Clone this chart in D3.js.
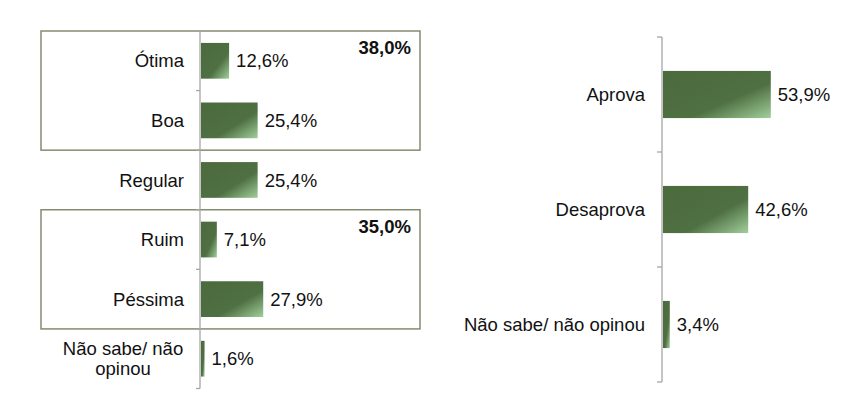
<!DOCTYPE html>
<html>
<head>
<meta charset="utf-8">
<script src="https://cdn.jsdelivr.net/npm/d3@7"></script>
<style>
  body { margin: 0; background: #fff; }
  text { font-family: "Liberation Sans", Arial, sans-serif; fill: #111; }
</style>
</head>
<body>
<svg id="chart" width="859" height="399"></svg>
<script>
// Avaliação (left) and aprovação (right)
const evalCategories = ["Ótima", "Boa", "Regular", "Ruim", "Péssima", "Não sabe/ não opinou"];
const evalValues = [12.6, 25.4, 25.4, 7.1, 27.9, 1.6];
const evalLabels = ["12,6%", "25,4%", "25,4%", "7,1%", "27,9%", "1,6%"];

// grouped totals shown in the boxes
const groupNames = [["Ótima", "Boa"], ["Ruim", "Péssima"]];
const groupTotals = ["38,0%", "35,0%"];

const approvalCategories = ["Aprova", "Desaprova", "Não sabe/ não opinou"];
const approvalValues = [53.9, 42.6, 3.4];
const approvalLabels = ["53,9%", "42,6%", "3,4%"];

const svg = d3.select("#chart");

// gradient used by every bar
const grad = svg.append("defs").append("linearGradient")
    .attr("id", "barGrad")
    .attr("x1", 0).attr("y1", 0).attr("x2", 1).attr("y2", 1);
grad.append("stop").attr("offset", "0%").attr("stop-color", "#4b6a3d");
grad.append("stop").attr("offset", "62%").attr("stop-color", "#4f7042");
grad.append("stop").attr("offset", "100%").attr("stop-color", "#a2cf9c");

const axisColor = "#a6a6a6";
const fontSize = "18.5px";

// ---------- Left chart ----------
const L = { axisX: 200, top: 31, bottom: 388.5, boxLeft: 41, boxRight: 420 };

const yL = d3.scaleBand()
    .domain(evalCategories)
    .range([L.top, L.bottom])
    .padding(0);

const xL = d3.scaleLinear()
    .domain([0, 100])
    .range([L.axisX, L.axisX + 223]);

const gL = svg.append("g");

// boxes around grouped categories
gL.selectAll("rect.box")
    .data(groupNames)
    .enter()
    .append("rect")
    .attr("class", "box")
    .attr("x", L.boxLeft)
    .attr("y", d => yL(d[0]))
    .attr("width", L.boxRight - L.boxLeft)
    .attr("height", d => yL(d[d.length - 1]) + yL.step() - yL(d[0]))
    .attr("fill", "none")
    .attr("stroke", "#848c70")
    .attr("stroke-width", 1.5);

gL.selectAll("text.total")
    .data(groupNames)
    .enter()
    .append("text")
    .attr("class", "total")
    .attr("x", L.boxRight - 9)
    .attr("y", d => yL(d[0]) + 23)
    .attr("text-anchor", "end")
    .style("font-size", fontSize)
    .style("font-weight", "bold")
    .text((d, i) => groupTotals[i]);

// axis line and boundary ticks
gL.append("line")
    .attr("x1", L.axisX).attr("x2", L.axisX)
    .attr("y1", L.top).attr("y2", L.bottom)
    .attr("stroke", axisColor).attr("stroke-width", 1.3);

gL.selectAll("line.tick")
    .data(evalCategories)
    .enter()
    .append("line")
    .attr("class", "tick")
    .attr("x1", L.axisX - 4).attr("x2", L.axisX)
    .attr("y1", d => yL(d) + yL.step())
    .attr("y2", d => yL(d) + yL.step())
    .attr("stroke", axisColor).attr("stroke-width", 1.3);

const barHL = yL.step() * 0.6;

gL.selectAll("rect.bar")
    .data(evalValues)
    .enter()
    .append("rect")
    .attr("class", "bar")
    .attr("x", L.axisX + 1)
    .attr("y", (d, i) => yL(evalCategories[i]) + (yL.step() - barHL) / 2)
    .attr("width", d => xL(d) - L.axisX)
    .attr("height", barHL)
    .attr("fill", "url(#barGrad)");

gL.selectAll("text.val")
    .data(evalValues)
    .enter()
    .append("text")
    .attr("class", "val")
    .attr("x", d => xL(d) + 8)
    .attr("y", (d, i) => yL(evalCategories[i]) + yL.step() / 2)
    .attr("dy", "0.36em")
    .style("font-size", fontSize)
    .text((d, i) => evalLabels[i]);

// category labels (the last one wraps)
const catL = gL.selectAll("text.cat")
    .data(evalCategories)
    .enter()
    .append("text")
    .attr("class", "cat")
    .attr("text-anchor", "end")
    .style("font-size", fontSize)
    .attr("x", L.axisX - 16)
    .attr("y", d => yL(d) + yL.step() / 2)
    .attr("dy", "0.36em");

catL.each(function(d) {
    const t = d3.select(this);
    if (d === "Não sabe/ não opinou") {
        const cx = L.axisX - 16 - 61;
        t.attr("text-anchor", "middle").attr("dy", null);
        t.append("tspan").attr("x", cx).attr("dy", "-0.2em").text("Não sabe/ não");
        t.append("tspan").attr("x", cx).attr("dy", "1.1em").text("opinou");
    } else {
        t.text(d);
    }
});

// ---------- Right chart ----------
const R = { axisX: 662, top: 37, bottom: 382 };

const yR = d3.scaleBand()
    .domain(approvalCategories)
    .range([R.top, R.bottom])
    .padding(0);

const xR = d3.scaleLinear()
    .domain([0, 100])
    .range([R.axisX, R.axisX + 200]);

const gR = svg.append("g");

gR.append("line")
    .attr("x1", R.axisX).attr("x2", R.axisX)
    .attr("y1", R.top).attr("y2", R.bottom)
    .attr("stroke", axisColor).attr("stroke-width", 1.3);

gR.selectAll("line.tick")
    .data([approvalCategories[0]].concat(approvalCategories))
    .enter()
    .append("line")
    .attr("class", "tick")
    .attr("x1", R.axisX - 5).attr("x2", R.axisX)
    .attr("y1", (d, i) => i === 0 ? yR(d) : yR(d) + yR.step())
    .attr("y2", (d, i) => i === 0 ? yR(d) : yR(d) + yR.step())
    .attr("stroke", axisColor).attr("stroke-width", 1.3);

const barHR = yR.step() * 0.41;

gR.selectAll("rect.bar")
    .data(approvalValues)
    .enter()
    .append("rect")
    .attr("class", "bar")
    .attr("x", R.axisX + 1)
    .attr("y", (d, i) => yR(approvalCategories[i]) + (yR.step() - barHR) / 2)
    .attr("width", d => xR(d) - R.axisX)
    .attr("height", barHR)
    .attr("fill", "url(#barGrad)");

gR.selectAll("text.val")
    .data(approvalValues)
    .enter()
    .append("text")
    .attr("class", "val")
    .attr("x", d => xR(d) + 8)
    .attr("y", (d, i) => yR(approvalCategories[i]) + yR.step() / 2)
    .attr("dy", "0.36em")
    .style("font-size", fontSize)
    .text((d, i) => approvalLabels[i]);

gR.selectAll("text.cat")
    .data(approvalCategories)
    .enter()
    .append("text")
    .attr("class", "cat")
    .attr("x", R.axisX - 17)
    .attr("y", d => yR(d) + yR.step() / 2)
    .attr("dy", "0.36em")
    .attr("text-anchor", "end")
    .style("font-size", fontSize)
    .text(d => d);
</script>
</body>
</html>
